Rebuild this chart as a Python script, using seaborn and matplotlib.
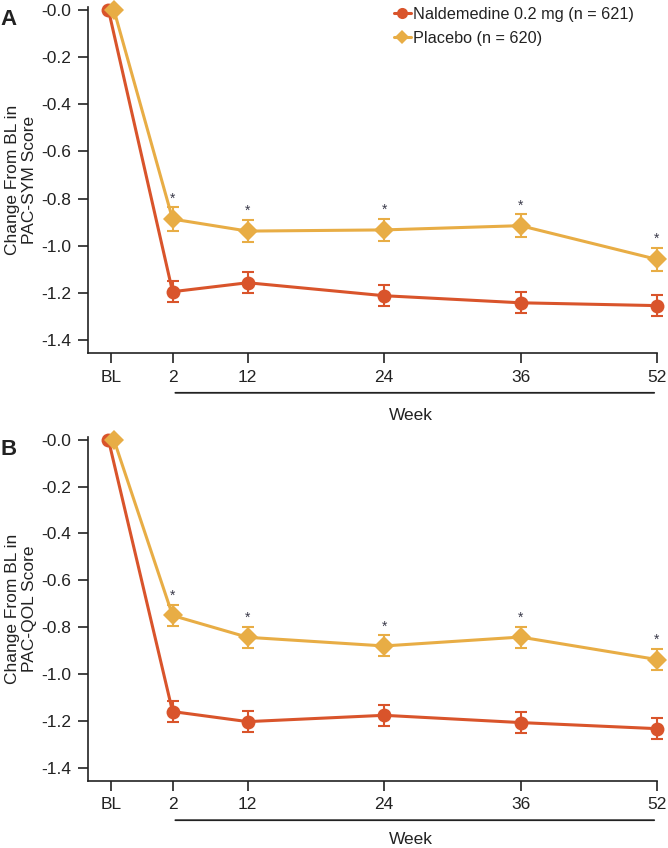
import numpy as np
import pandas as pd
import matplotlib
matplotlib.use("Agg")
import matplotlib.pyplot as plt
import seaborn as sns

sns.set_theme(style="ticks")
plt.rcParams['font.family'] = ['Liberation Sans', 'DejaVu Sans']

# ---------------- data ----------------
weeks = ["BL", "2", "12", "24", "36", "52"]
week_pos = [0.0, 0.45, 1.0, 2.0, 3.0, 4.0]

sym_nal = [0.0, -1.195, -1.157, -1.212, -1.242, -1.254]
sym_nal_se = [0.0, 0.045, 0.045, 0.045, 0.045, 0.045]
sym_pla = [0.0, -0.887, -0.938, -0.933, -0.915, -1.058]
sym_pla_se = [0.0, 0.05, 0.048, 0.048, 0.048, 0.048]

qol_nal = [0.0, -1.160, -1.203, -1.176, -1.207, -1.233]
qol_nal_se = [0.0, 0.045, 0.045, 0.045, 0.045, 0.045]
qol_pla = [0.0, -0.750, -0.843, -0.880, -0.842, -0.938]
qol_pla_se = [0.0, 0.045, 0.045, 0.045, 0.045, 0.045]

nal_label = "Naldemedine 0.2 mg (n = 621)"
pla_label = "Placebo (n = 620)"
c_nal = "#D9542B"
c_pla = "#E8AD45"
ink = "#222222"

fig = plt.figure(figsize=(6.68, 8.48), dpi=100)
ax_a = fig.add_axes([0.1317, 0.5837, 0.8518, 0.408])
ax_b = fig.add_axes([0.1317, 0.0794, 0.8518, 0.4053])


def draw_panel(ax, nal, nal_se, pla, pla_se, ylabel, letter, legend, week_y):
    # small offset at baseline so both markers are visible
    x_nal = [p - 0.02 if w == "BL" else p for p, w in zip(week_pos, weeks)]
    x_pla = [p + 0.02 if w == "BL" else p for p, w in zip(week_pos, weeks)]
    df = pd.concat([
        pd.DataFrame({"x": x_nal, "y": nal, "se": nal_se, "grp": nal_label}),
        pd.DataFrame({"x": x_pla, "y": pla, "se": pla_se, "grp": pla_label}),
    ])
    for d, c in [(df[df.grp == nal_label], c_nal), (df[df.grp == pla_label], c_pla)]:
        d = d[d.se > 0]
        eb = ax.errorbar(d.x, d.y, yerr=d.se, fmt="none", ecolor=c, elinewidth=1.5,
                         capsize=4.5, capthick=1.5, zorder=2)
        for art in eb.lines[1] + eb.lines[2]:
            art.set_clip_on(False)
    sns.lineplot(data=df, x="x", y="y", hue="grp", style="grp",
                 palette={nal_label: c_nal, pla_label: c_pla},
                 markers={nal_label: "o", pla_label: "D"},
                 dashes=False, sort=False, ax=ax, linewidth=2.2,
                 markeredgewidth=0, legend=legend, zorder=3)
    for line in ax.lines:
        line.set_clip_on(False)
        if line.get_marker() in ("o", "D"):
            line.set_markersize(10)
    # significance asterisks
    d = df[(df.grp == pla_label) & (df.se > 0)]
    for xx, yy, ss in zip(d.x, d.y, d.se):
        ax.text(xx, yy + ss + 0.008, "*", ha="center", va="bottom",
                fontsize=10, color="#3a3a4a")

    ax.set_xlim(-0.17, 4.0)
    ax.set_ylim(-1.455, 0.012)
    ax.set_xticks(week_pos)
    ax.set_xticklabels(weeks)
    yt = np.arange(0, -1.41, -0.2)
    ax.set_yticks(yt)
    ax.set_yticklabels(["-0.0"] + [f"{v:.1f}" for v in yt[1:]])
    ax.tick_params(labelsize=12.5, length=7, width=1.2, color=ink,
                   labelcolor=ink, pad=5)
    for s in ["top", "right"]:
        ax.spines[s].set_visible(False)
    for s in ["left", "bottom"]:
        ax.spines[s].set_linewidth(1.2)
        ax.spines[s].set_color(ink)
    ax.set_xlabel("")
    ax.set_ylabel(ylabel, fontsize=12.5, color=ink, linespacing=1.2,
                  labelpad=3)

    # week bracket under ticks
    ax.annotate("", xy=(week_pos[1], -0.115), xytext=(week_pos[-1], -0.115),
                xycoords=("data", "axes fraction"),
                arrowprops=dict(arrowstyle="-", color=ink, lw=1.3))
    ax.text(2.2, week_y, "Week", transform=ax.get_xaxis_transform(),
            ha="center", va="baseline", fontsize=12.5, color=ink,
            clip_on=False)
    ax.text(-0.139, 0.993, letter, transform=ax.transAxes, fontsize=16,
            fontweight="bold", ha="center", va="top", color=ink)

    if legend:
        leg = ax.legend(loc="upper left", bbox_to_anchor=(0.527, 1.02),
                        frameon=False, fontsize=11.7, handlelength=1.0,
                        handletextpad=0.15, labelspacing=0.55,
                        borderaxespad=0)
        for t in leg.get_texts():
            t.set_color(ink)
        for h in leg.legend_handles:
            h.set_linewidth(2.2)
            if h.get_marker() == "o":
                h.set_markersize(8)
            else:
                h.set_markersize(7)


draw_panel(ax_a, sym_nal, sym_nal_se, sym_pla, sym_pla_se,
           "Change From BL in\nPAC-SYM Score", "A", True, -0.195)
draw_panel(ax_b, qol_nal, qol_nal_se, qol_pla, qol_pla_se,
           "Change From BL in\nPAC-QOL Score", "B", False, -0.183)

fig.savefig("out.png", dpi=100)
